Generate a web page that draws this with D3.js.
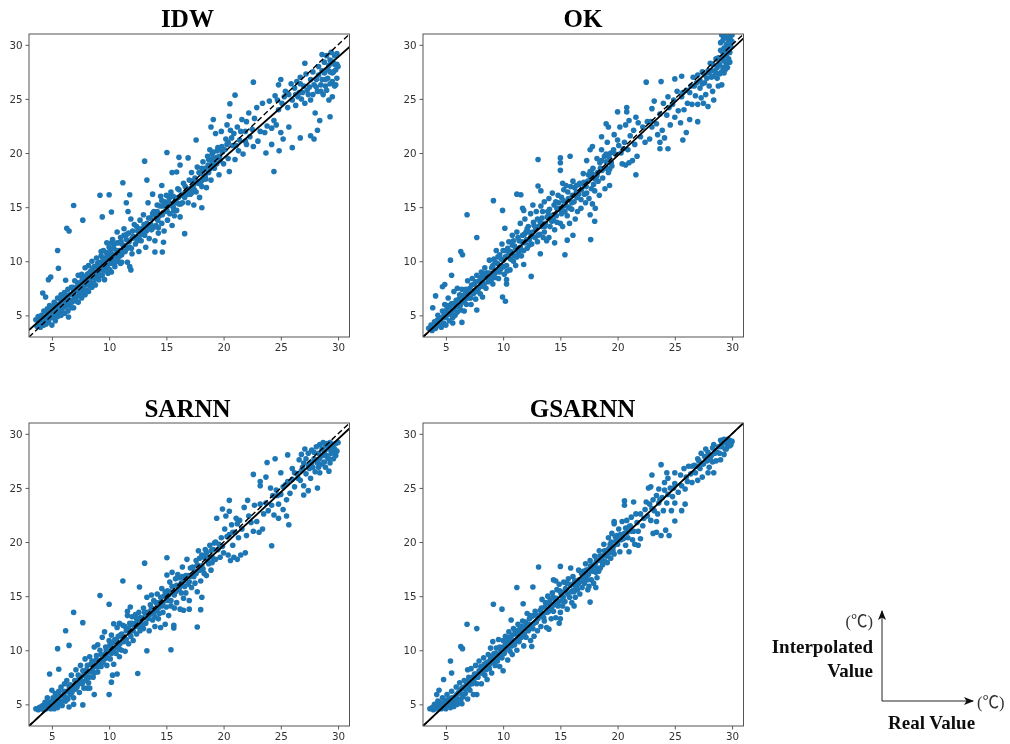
<!DOCTYPE html>
<html>
<head>
<meta charset="utf-8">
<script src="https://cdn.jsdelivr.net/npm/d3@7"></script>
<style>
  html, body { margin: 0; padding: 0; background: #fff; }
</style>
</head>
<body>
<div id="wrapper"></div>
<script>
const titles = ["IDW", "OK", "SARNN", "GSARNN"];
const tickValues = [5, 10, 15, 20, 25, 30];
const axisDomain = [3, 31];
// fitted line end values at x = 3 and x = 31
const fitEnds = [[3.65, 29.8], [3.0, 30.6], [3.0, 30.5], [3.0, 31.0]];

// [real, interpolated]
const idwPoints = [[5.5,11],[5.57,9.36],[4.7,8.3],[4.9,8.55],[4.2,7.07],[4.45,6.7],[6.2,8.25],[6.3,13.05],[6.5,12.8],[6.9,15.15],[7.7,13.8],[9.2,16.1],[10,16.15],[9.4,14.1],[10.2,14.55],[11.2,17.25],[11.8,16.15],[11.5,15.4],[11.65,14.6],[13.1,19.25],[13.3,17.5],[15.05,20.05],[14.6,17],[16.2,18.9],[15.5,18.2],[15.9,18.25],[17.6,21.2],[16.1,19.6],[16.9,19.55],[19.1,23.1],[18.9,22.4],[21,25.35],[20.55,24.55],[22.6,26.55],[20.5,23.4],[25,26.8],[24.8,26.3],[27.1,28.3],[28.6,29.1],[24.4,18.3],[20.5,18.3],[23.7,20],[24.85,20.2],[26,20.5],[24.2,20.8],[26.7,21.4],[27.6,21.6],[27.9,21.3],[28.2,22.1],[29.3,23.35],[18.1,14.95],[16.6,12.55],[14.75,11.75],[14.65,10.85],[14,10.85],[11.8,9.5],[11.9,9.2],[6.45,4.85],
[3.6,4.6],[3.7,4],[3.8,4.9],[3.9,4.3],[4,3.9],[4.1,5],[4.1,4.5],[4.3,4.1],[4.3,5.4],[4.4,4.8],[4.5,4.2],[4.6,5.6],[4.6,5],[4.7,4.4],[4.8,5.9],[4.8,4.7],[4.9,5.3],[5,4.1],[5,5.8],[5.1,4.8],[5.2,5.2],[5.2,6.2],[5.3,4.5],[5.4,5.7],[5.5,4.9],[5.5,6.6],[5.6,5.3],[5.7,6],[5.8,5],[5.8,6.9],[5.9,5.6],[6,6.3],[6.1,5.2],[6.1,7.1],[6.2,5.8],[6.3,6.6],[6.4,5.4],[6.4,7.4],[6.5,6.1],[6.6,6.9],[6.7,5.7],[6.7,7.6],[6.8,6.4],[6.9,7.2],[6.9,5.7],[7,8.2],[7.1,6.7],[7.2,7.6],[7.3,6.2],[7.3,8.7],[7.4,7],[7.5,8],[7.6,6.6],[7.6,8.8],[7.7,7.4],[7.8,8.3],[7.9,6.9],[7.9,9.4],[8,7.8],[8.1,8.8],[8.2,7.2],[8.2,9.6],[8.3,8.1],[8.4,9.1],[8.5,7.6],[8.5,10],[8.6,8.5],[8.7,9.5],[8.8,7.8],[8.9,8.9],[8.9,10.3],[9,9.8],[9.1,8.3],[9.2,9.2],[9.3,10.5],[9.4,8.7],[9.5,9.9],[9.5,11],[9.6,8.3],[9.7,9.4],[9.8,10.4],[9.8,11.7],[9.9,8.9],[10,9.8],[10,11.3],[10.1,10.7],[10.2,9],[10.3,10.1],[10.3,12],[10.4,11.2],[10.5,9.5],[10.6,10.5],[10.7,11.7],[10.7,12.7],[10.8,10],[10.9,11],[11,9.8],[11,12.2],[11.1,10.6],[11.2,11.5],[11.3,13],[11.4,10.9],[11.5,12],[11.6,9.9],[11.7,12.6],[11.8,11.3],[11.9,13.9],[12,10.7],[12.1,12.3],[12.2,13.4],[12.3,11.6],[12.5,12.8],[12.6,10.9],[12.7,13.8],[12.8,11.9],[12.9,13],[13,14.3],[13.1,12.4],[13.2,11.3],[13.3,13.5],[13.4,15.4],[13.5,12.1],[13.6,14],[13.7,12.9],[13.8,16.2],[13.9,14.6],[14,11.9],[14.1,13.3],[14.2,15.2],[14.3,12.6],[14.4,14.2],[14.5,16],[14.6,13.5],[14.7,15.1],[14.8,12.8],[14.9,14.6],[15,16.1],[15.1,13.8],[15.2,15.4],[15.3,14.4],[15.4,16.4],[15.5,13.3],[15.6,15],[15.7,14.2],[15.8,15.8],[15.9,14.7],[16,16.7],[16.1,15.3],[16.2,14.1],[16.3,16.1],[16.4,15.4],[16.5,17.2],[16.6,15.9],[16.8,16.6],[16.9,15.4],[17,17.5],[17.1,16.2],[17.2,18.2],[17.3,16.9],[17.4,15.2],[17.5,17.7],[17.6,16.4],[17.7,18.7],[17.8,17.2],[17.9,15.9],[18,18.1],[18.1,16.9],[18.2,19.2],[18.3,17.6],[18.4,18.6],[18.5,16.8],[18.6,19.7],[18.7,18.2],[18.8,20.3],[18.9,17.5],[19,19],[19.1,20.1],[19.2,18.6],[19.3,21.8],[19.4,19.6],[19.5,20.5],[19.6,18],[19.7,19.3],[19.8,22],[19.9,20.1],[20,19],[20.2,21.3],[20.3,22.6],[20.4,19.5],[20.6,22.1],[20.8,20.7],[20.9,21.8],[21,19.4],[21.2,22.4],[21.3,20.2],[21.4,21.2],[21.6,23.1],[21.7,19.9],[21.9,22],[22,20.8],[22.2,23.7],[22.3,21.5],[22.6,20.6],[22.7,23.2],[22.9,24.2],[23,21.1],[23.2,22],[23.4,24.6],[23.6,21.9],[23.8,22.5],[24,24.8],[24.2,22.3],[24.4,23],[24.5,25.3],[24.6,22.6],[24.8,24],[25,21.9],[25.1,24.6],[25.2,21.3],[25.4,25.7],[25.6,24.2],[25.7,22.4],[25.9,26.4],[26,24.9],[26.2,26],[26.3,24.4],[26.4,26.6],[26.5,25.2],[26.7,27],[26.8,25],[27,26.2],[27.1,24.6],[27.2,27.3],[27.4,25.4],[27.5,26.1],[27.6,24.9],[27.8,27.5],[27.9,26.3],[28,23.7],[28.1,26.8],[28.2,25.7],[28.3,28],[28.4,23],[28.5,26.3],[28.6,27.6],[28.7,25.4],[28.8,28.4],[28.9,26.8],[29,25.8],[29,29],[29.1,27.7],[29.2,24.9],[29.3,28.6],[29.3,26.4],[29.4,29.3],[29.5,27.4],[29.5,25.2],[29.6,28.3],[29.7,29],[29.7,26.2],[29.8,27.7],[29.9,29.2],[29.9,28.2],[29.9,26.9],[30,28]];
const idwCore = [[3.95,4.75],[4.2,4.55],[4.45,5.35],[4.55,4.55],[4.75,5.15],[4.95,5.7],[5.05,5.15],[5.25,5.6],[5.35,6.05],[5.45,5.25],[5.65,5.65],[5.75,6.45],[5.85,5.3],[6,5.85],[6.05,6.7],[6.25,6.2],[6.35,5.95],[6.45,6.85],[6.55,6.4],[6.75,6.2],[6.85,7.6],[6.95,6.8],[7.05,7.3],[7.15,6.3],[7.25,8],[7.35,7.4],[7.45,6.8],[7.55,7.6],[7.65,8.35],[7.75,7.1],[7.85,7.8],[7.95,8.6],[8.05,7.3],[8.15,8.2],[8.25,8.9],[8.35,7.7],[8.45,8.5],[8.55,9.3],[8.65,8],[8.75,9],[8.85,8.4],[8.95,9.5],[9.05,8.8],[9.15,9.9],[9.25,8.7],[9.35,9.5],[9.45,10.3],[9.55,9.1],[9.65,10],[9.75,10.8],[9.85,9.5],[9.95,10.3],[10.05,9.2],[10.15,11],[10.25,9.8],[10.35,10.6],[10.45,11.6],[10.55,9.9],[10.65,11],[10.75,10.3],[10.95,10.5],[11.05,11.8],[11.25,10.9],[11.45,11.4],[11.55,12.5],[11.75,11.8],[11.95,11.2],[12.05,12.8],[12.25,12.2],[12.45,11.9],[12.65,13],[12.85,12.5],[13.05,13.4],[13.25,12.8],[13.45,14],[13.65,13.4],[13.85,13.1],[14.05,14.2],[14.25,13.8],[14.45,15.1],[14.65,14.3],[14.85,15.5],[15.05,14.7],[15.25,15.8],[15.45,15.2],[15.65,14.7],[15.85,15.4],[16.05,15.9],[16.25,15.3],[16.45,16.2],[16.65,16.9],[16.85,16.2],[17.05,16.7],[17.25,17.4],[17.45,16.6],[17.65,17.4],[17.85,18.2],[18.05,17.4],[18.25,18.4],[18.45,17.6],[18.65,18.9],[18.85,18.6],[19.05,19.5],[19.25,19.1],[19.45,20.2],[19.65,19.7],[19.85,20.6],[27.3,25.8],[27.6,26.8],[27.8,25.4],[28.1,26.1],[28.3,27.2],[28.5,25.7],[28.6,26.8],[28.8,27.4],[28.9,26.2],[29.1,26.9],[29.2,28.1],[29.3,27.5],[29.4,28.5],[29.5,26.6],[29.6,27.5],[29.7,28.2],[29.8,26.3],[26.6,25.6],[26.9,25.6],[26.3,25.4],[26.7,26.4],[20.4,21],[20.7,21.4],[21.1,20.7],[21.5,22],[21.9,21.1],
[9.3,10.9],[10.2,11.7],[10.9,11.7],[11.3,12.4],[11.1,9.9],[11.6,11.2],[12,12.1],[12.4,13.2],[12.6,12.2],[13.4,13.2],[13,12.9],[13.8,14.4],[14.2,14.6],[14.6,15.6],[14.3,13.1],[15.1,15.1],[15.6,16],[15.3,16],[16.1,16.6],[15.9,15.8],[17.2,16.3],[16.7,16.3],[17.4,17.1],[18.1,18.6],[18.4,17.9],[18.7,19.4],[19,19.9],[19.4,19],[19.7,20.4],[18.9,19.4],[20.1,20.3],[20.3,20.8],[22,22.9],[22.5,22.2],[24.7,24.9],[25.3,25.2],[25.7,25.4]];

const okPoints = [[5.4,10.1],[5.5,8.7],[4.9,7.85],[4.7,7.65],[4.1,6.8],[3.85,5.7],[6.3,10.9],[6.45,10.6],[6.85,14.3],[7.7,12.2],[9.15,15.6],[9.95,14.7],[10.15,13.05],[11.2,16.2],[11.55,16.15],[11.7,14.9],[11.8,14.7],[13.05,19.4],[13.05,16.95],[13.3,16.5],[15,19.55],[15,19.1],[15,18.4],[15.85,19.7],[15.2,17.2],[17.7,18],[17.6,20.3],[17.8,20.6],[19,22.7],[19.2,22.4],[18.6,21.5],[20.8,24.2],[20.8,23.8],[21.6,23.3],[20,23.8],[22.5,26.55],[23.8,26.6],[25,26.85],[25.6,27.1],[27,22.9],[27.9,24.3],[26,21.9],[25.7,21.2],[24.4,20.4],[23.7,20.4],[23.7,21],[24.1,21.4],[21.6,18],[20.7,18.9],[21,19.1],[18.05,14.9],[18,13.7],[17.6,14.3],[17.65,12],[15.4,10.6],[13.25,10.7],[12.45,8.6],[15.6,11.95],[16.1,12.4],[10.2,6.3],[9.95,6.7],[10.3,8.3],[10.3,7.9],[7.7,5.5],[6.4,4.35],[5.6,4.3],[8.2,6.7],[11.8,9.7],[14.5,11.7],[14,12.2],
[3.5,3.8],[3.7,4.1],[3.8,3.6],[4,4.4],[4.1,3.8],[4.3,5],[4.3,4.1],[4.5,4.6],[4.6,3.9],[4.7,5.4],[4.8,4.3],[4.9,6],[5,4.8],[5,4.1],[5.1,5.6],[5.2,6.6],[5.3,4.5],[5.4,5.2],[5.5,6.1],[5.6,4.8],[5.7,7.2],[5.7,5.6],[5.8,5],[5.9,6.4],[6,5.3],[6,7.5],[6.1,6],[6.2,6.9],[6.3,5.5],[6.4,7.4],[6.5,6.3],[6.6,5.4],[6.7,7],[6.8,6],[6.9,8.2],[7,6.6],[7.1,7.5],[7.2,6],[7.3,8.4],[7.4,7],[7.5,7.9],[7.6,6.5],[7.7,8.7],[7.8,7.4],[7.9,8.2],[8,7],[8.1,9],[8.2,7.7],[8.3,8.5],[8.4,9.4],[8.5,7.5],[8.6,8.9],[8.7,8.1],[8.8,10.1],[8.9,8.5],[9,9.4],[9.1,7.9],[9.2,10.2],[9.3,8.9],[9.4,11],[9.5,9.8],[9.6,8.4],[9.7,10.6],[9.8,9.3],[9.9,11.6],[10,10.1],[10.1,8.8],[10.2,11],[10.3,9.6],[10.4,10.5],[10.5,11.8],[10.6,9.2],[10.7,10.9],[10.8,12.4],[10.9,10],[11,11.4],[11.1,9.6],[11.2,12.7],[11.3,10.8],[11.4,11.9],[11.5,13.5],[11.6,10.5],[11.7,12.4],[11.8,11],[11.9,13.9],[12,12.7],[12.1,11.2],[12.2,13.2],[12.3,12],[12.4,14.4],[12.5,11.6],[12.6,15.2],[12.7,13.3],[12.8,12.2],[12.9,14.6],[13,11.8],[13.1,13.2],[13.2,12.5],[13.3,15.1],[13.4,14],[13.5,12.2],[13.6,15.5],[13.7,13.5],[13.8,11.9],[13.9,14.6],[14,15.8],[14.1,13.2],[14.3,16.3],[14.4,14.3],[14.5,12.9],[14.6,15.5],[14.7,13.6],[14.8,16.1],[14.9,14.8],[15,13.5],[15.1,15.9],[15.2,13.2],[15.3,16.6],[15.4,14.6],[15.5,17],[15.6,14.2],[15.7,15.8],[15.8,13.5],[15.9,16.9],[16,14.8],[16.1,17.4],[16.2,15.5],[16.3,13.9],[16.4,17],[16.5,14.6],[16.6,16.2],[16.7,17.2],[16.8,14.9],[17,18.1],[17.1,16.2],[17.2,15.4],[17.3,19.3],[17.4,17.4],[17.5,15.8],[17.6,18.3],[17.7,16.7],[17.8,15.3],[17.9,18],[18,16.5],[18.2,19.5],[18.3,17.4],[18.4,16.1],[18.5,18.6],[18.6,20.3],[18.7,17.7],[18.9,16.7],[19,19.2],[19.1,21],[19.2,18.2],[19.3,17],[19.4,20],[19.5,18.8],[19.7,21.7],[19.8,19.9],[20,21.2],[20.2,22.4],[20.3,20],[20.4,19],[20.6,21],[20.7,22.6],[20.9,20.3],[21,23],[21.1,21.6],[21.3,19.3],[21.4,22.1],[21.5,20.8],[21.7,19.7],[21.8,22.8],[22,21.5],[22.2,22.4],[22.4,21],[22.6,22.9],[22.8,21.3],[23,24.1],[23,22.4],[23.2,24.8],[23.4,22.7],[23.5,21.7],[23.7,23.6],[23.9,22.1],[24,24.6],[24.3,23.5],[24.4,25.2],[24.6,22.6],[24.8,24.5],[25,23.3],[25.2,25.7],[25.3,23.9],[25.5,22.8],[25.6,25.2],[25.8,24],[26,25.8],[26.1,24.6],[26.3,23.1],[26.4,26.2],[26.5,24.5],[26.6,27],[26.8,25.3],[27,27.2],[27,24.5],[27.2,26],[27.3,25.1],[27.4,27.5],[27.5,24.6],[27.6,26.5],[27.7,25.4],[27.9,27.6],[28,26.2],[28.1,28.3],[28.2,27],[28.3,25.7],[28.4,24.9],[28.5,27.6],[28.6,28.7],[28.7,26.9],[28.8,26.2],[28.9,28.2],[29,27.4],[29,29.5],[29.1,26.3],[29.1,28.7],[29.2,30.4],[29.2,27.9],[29.3,29.7],[29.3,28.5],[29.4,30.8],[29.4,27.7],[29.5,30],[29.5,29],[29.5,28.2],[29.6,30.6],[29.6,29.4],[29.6,27.9],[29.7,28.7],[29.7,30.2],[29.8,29.3],[29.8,30.8],[29.9,29.8],[29.9,30.4],[30,30.9],[29.1,30.9],[29,30.2],[30,30.3],[29.8,28.4]];
const okCore = [[3.9,4.05],[4.25,4.55],[4.45,4.1],[4.65,4.8],[4.85,5.1],[5.05,5.25],[5.25,5.1],[5.35,5.8],[5.55,5.4],[5.75,6.1],[5.95,5.8],[6.15,6.5],[6.25,5.9],[6.45,6.8],[6.6,6.2],[6.75,7.4],[6.9,6.7],[7.05,7.1],[7.15,6.6],[7.25,7.8],[7.45,7.2],[7.6,8.1],[7.75,7.2],[7.9,7.6],[8.05,8.5],[8.2,8],[8.35,7.9],[8.5,8.9],[8.65,8.4],[8.8,8.9],[8.95,8.2],[9.1,9.6],[9.25,8.5],[9.4,9.2],[9.55,10.4],[9.7,9],[9.85,10.2],[10.05,9.5],[10.2,10.4],[10.35,9.1],[10.5,10.9],[10.65,10.2],[10.8,11.5],[10.95,10.5],[11.1,11.2],[11.3,12.2],[11.45,11],[11.65,11.8],[11.85,12.5],[12.05,12],[12.25,12.7],[12.45,12.3],[12.65,13.6],[12.85,13],[13.05,12.4],[13.25,13.6],[13.45,14.6],[13.65,13.2],[13.85,14.1],[14.05,14.8],[14.25,13.7],[14.45,15.2],[14.65,14.2],[14.85,15.4],[15.05,14.9],[15.25,15.6],[15.45,15.2],[15.65,16.4],[15.85,14.9],[16.05,16.1],[16.25,16.8],[16.45,15.9],[16.65,17.1],[16.85,16.6],[17.05,17.3],[17.25,16.9],[17.45,18],[17.65,17.7],[17.85,18.6],[18.05,17.6],[18.25,18.2],[18.45,19.1],[18.65,18.4],[18.85,19.7],[19.05,18.6],[19.25,19.6],[19.45,19.1],[19.65,20.3],[27.6,27.2],[27.8,26.9],[28,27.4],[28.2,27.6],[28.3,28.2],[28.4,27.1],[28.6,27.4],[28.7,27.9],[28.8,28.8],[28.9,27.3],[29.1,27.5],[29.2,28.9],[29.3,27.4],[29.4,29.6],[29.5,30.7],[29.6,28.5],[29.7,29.7],[29.8,30.2],[29.3,30.6],[29.2,29.3],[29.9,30.9],[26.9,26.5],[27.2,26.7],[27.4,26.4],[26.3,25.6],[25.7,25.6],
[5.2,5.9],[6.7,6.5],[8.2,8.7],[9.1,8.7],[9.3,9.9],[10,11],[10.4,11.2],[10.9,11.9],[11.2,10.4],[11.5,11.3],[11.9,11.7],[12.1,13],[12.3,11.5],[12.6,12.7],[13,13.9],[13.4,13.2],[13.6,12.7],[14,14.3],[14.4,13.8],[14.7,14.9],[15.1,14.4],[15.3,15.1],[15.7,15],[16,15.4],[16.4,16.4],[16.8,15.7],[17.1,17],[17.3,16.3],[17.7,18.2],[17.9,17.1],[18.2,17.9],[18.6,19.3],[19,19.9],[19.3,18.5],[20.1,20.7],[20.5,20.4],[22.9,22.9],[24.5,24.2],[24.9,24.9],[26.7,26.2]];

const sarnnPoints = [[5.5,10.15],[5.6,8.25],[4.8,7.8],[6.2,11.8],[6.5,10.45],[6.9,13.5],[7.7,12.55],[9.2,15.05],[10,14.25],[10.4,12.45],[11.2,16.4],[10.9,12.5],[11.85,14],[11.6,13.6],[13.1,18.05],[12.65,15.85],[15.05,18.55],[15.05,16.95],[13,13.9],[12.5,7.85],[13.3,9.95],[15.4,10.05],[15.65,12.05],[15.65,12.3],[17.7,12.15],[18,13.75],[18.1,14.9],[17,13.8],[16.5,13.7],[10,5.9],[8.7,5.9],[7.7,4.95],[6.5,4.75],[6.9,5],[10.2,7.05],[10.3,7.7],[10.7,7.8],[8.3,6.5],[8.1,6.5],[24.2,19.65],[25.7,21.6],[25.5,22.4],[24.8,22.2],[23.7,26],[23.8,27.35],[24.5,27.7],[25.6,28.05],[22.6,26.25],[23.2,25.6],[23.2,25.2],[20.5,23.85],[19.9,23.05],[20.5,22.85],[22.1,23.85],[27,24.35],[27.4,24.75],[28.2,25],[29.2,26.55],[28.4,26.4],
[3.6,4.6],[3.8,4.5],[3.9,4.7],[4.1,4.6],[4.2,4.9],[4.3,4.5],[4.4,5.2],[4.5,4.6],[4.6,5.6],[4.7,4.7],[4.8,5.2],[4.9,4.6],[5,6.3],[5,5],[5.1,5.6],[5.2,4.6],[5.3,6],[5.4,5],[5.5,5.5],[5.5,4.7],[5.6,6.2],[5.7,5.2],[5.8,6.6],[5.9,4.9],[6,5.8],[6.1,6.9],[6.2,5.3],[6.3,6.2],[6.3,7.2],[6.4,5.5],[6.5,6.7],[6.6,5.9],[6.7,7.7],[6.8,6.3],[6.9,5.6],[7,7.2],[7.1,8.2],[7.2,6.6],[7.3,7.7],[7.4,6.1],[7.5,8.6],[7.6,7.1],[7.7,8.1],[7.8,6.5],[7.9,9.2],[8,7.6],[8.1,8.6],[8.2,7],[8.3,9.4],[8.4,8],[8.5,9],[8.6,7.5],[8.7,10.3],[8.8,8.5],[8.9,9.5],[9,10.5],[9,8],[9.1,9],[9.2,10],[9.3,8.5],[9.4,11.2],[9.5,9.4],[9.6,11.7],[9.7,10.3],[9.8,8.6],[9.9,9.8],[10,10.9],[10.1,9.2],[10.2,11.4],[10.3,10.2],[10.4,8.7],[10.5,11],[10.6,9.7],[10.7,12.1],[10.8,10.4],[10.9,9.4],[11,11.4],[11.1,10],[11.2,12.3],[11.3,10.8],[11.4,9.9],[11.5,11.8],[11.6,13.2],[11.7,10.6],[11.8,12.5],[11.9,11.3],[12,13.1],[12.1,10.9],[12.2,12.2],[12.3,13.3],[12.4,11.5],[12.5,12.7],[12.6,13.5],[12.7,11.8],[12.8,13],[13,12],[13.1,13.5],[13.2,12.5],[13.3,14.9],[13.4,12.9],[13.5,11.8],[13.6,14.2],[13.7,15.1],[13.8,12.8],[13.9,14.6],[14,12.2],[14.1,13.7],[14.2,15.2],[14.3,12.9],[14.4,14.4],[14.5,12.1],[14.6,15.7],[14.7,13.5],[14.8,15],[14.9,12.4],[15,14],[15.1,15.5],[15.2,13.2],[15.3,16.3],[15.4,14.6],[15.5,17.2],[15.6,15.3],[15.7,13.9],[15.8,16.6],[15.9,14.4],[16,17],[16.1,15.6],[16.2,13.8],[16.3,16.2],[16.4,17.7],[16.5,14.8],[16.6,16.6],[16.7,15.3],[16.8,18.4],[16.9,16.9],[17,14.6],[17.1,17.6],[17.2,15.8],[17.3,17],[17.5,16.2],[17.6,18.3],[17.7,15.4],[17.8,19.2],[17.9,17.4],[18,16.4],[18.1,18.8],[18.2,17.5],[18.4,19.3],[18.5,16.9],[18.6,18.2],[18.8,19.7],[18.9,17.4],[19,18.6],[19.2,19.9],[19.3,18.4],[19.4,22.2],[19.6,19.8],[19.7,18.6],[19.8,20.4],[20,19],[20.1,21.2],[20.2,22.4],[20.4,18.8],[20.5,20.7],[20.6,18.3],[20.7,21.6],[20.8,19.7],[20.9,18.6],[21,20.9],[21.1,22.2],[21.2,18.4],[21.3,20.4],[21.4,22],[21.5,18.8],[21.6,21.2],[21.8,23.2],[21.9,19],[22,20.6],[22.2,22.4],[22.4,21.8],[22.6,21],[22.7,23.4],[22.9,21.9],[23.1,20.9],[23.2,23.5],[23.4,21.2],[23.5,22.6],[23.7,23.6],[23.9,22.9],[24.1,25],[24.2,23.4],[24.3,24.3],[24.4,22.5],[24.6,24.8],[24.8,23.5],[25,24.4],[25,26.4],[25.2,23],[25.4,25.3],[25.5,23.9],[25.8,24.5],[26,25.8],[26,26.8],[26.2,25.1],[26.4,26.3],[26.6,27.6],[26.7,25.7],[26.8,28.1],[26.9,26.9],[27,25.2],[27.1,28.6],[27.2,26.3],[27.4,28.2],[27.4,27.1],[27.6,25.9],[27.7,28.5],[27.8,26.9],[27.9,27.7],[28,26.5],[28.1,28.8],[28.2,27.3],[28.3,26.9],[28.4,29],[28.5,28],[28.6,27.2],[28.7,29.2],[28.8,28.4],[28.8,27.4],[28.9,26.9],[29,29.1],[29.1,27.8],[29.2,28.6],[29.3,29.2],[29.3,27.3],[29.4,28.2],[29.5,29],[29.6,27.7],[29.7,28.6],[29.8,29.1],[29.9,28.4],[30,29.2]];
const sarnnCore = [[4,4.75],[4.25,4.7],[4.45,4.8],[4.65,5.1],[4.85,4.8],[5.05,5.3],[5.25,5],[5.35,5.6],[5.55,5.1],[5.7,5.8],[5.85,5.3],[6.05,6.2],[6.15,5.7],[6.3,5.5],[6.45,6.2],[6.6,6.8],[6.75,6.1],[6.9,6.7],[7.05,6.4],[7.2,7.2],[7.35,6.9],[7.5,7.5],[7.65,6.9],[7.8,7.7],[7.95,7.2],[8.1,8],[8.25,7.5],[8.4,8.7],[8.55,8.1],[8.7,7.9],[8.85,9.1],[9,8.5],[9.15,8.6],[9.3,9.6],[9.45,8.9],[9.6,9.2],[9.75,10],[9.9,9.3],[10.05,10.4],[10.2,9.7],[10.35,10.7],[10.5,10.2],[10.65,10.9],[10.8,11.3],[10.95,10.6],[11.1,11.5],[11.3,11.2],[11.5,11],[11.7,12],[11.9,12.4],[12.1,11.8],[12.3,12.5],[12.5,12.2],[12.7,13],[12.9,12.4],[13.1,13],[13.3,13.5],[13.5,13.2],[13.7,13.9],[13.9,13.4],[14.1,14.4],[14.3,13.9],[14.5,14.9],[14.7,14.4],[14.9,15.4],[15.1,14.6],[15.3,15.4],[15.5,15.9],[15.7,15.1],[15.9,16],[16.1,16.7],[16.3,15.3],[16.5,16.4],[16.7,16.9],[16.9,16.1],[17.1,16.8],[17.3,17.7],[17.5,17.3],[17.7,17.9],[17.9,18.5],[18.1,17.8],[18.3,18.6],[18.5,19],[18.7,18.6],[18.9,19.2],[19.1,19.3],[19.3,20],[26.2,26.4],[26.5,25.9],[26.8,26.6],[27,27.3],[27.2,27.7],[27.5,26.8],[27.7,27.3],[27.9,28.3],[28.1,27.6],[28.3,28.2],[28.4,27.7],[28.6,28.6],[28.7,28],[28.9,28.9],[29,28],[29.1,28.9],[29.2,27.7],[29.3,28.7],[29.5,28.3],[29.6,29],[29.8,28],
[8,8.2],[8.9,8.8],[9.3,9.1],[9.7,9.7],[10.1,10.7],[10.4,9.9],[10.9,10.1],[11.2,11],[11.4,12.2],[11.8,11.6],[12,12.5],[12.4,12.9],[12.8,12.1],[13.2,13.2],[13.6,13.6],[14,13.1],[14.4,13.4],[14.6,14.1],[15,15],[15.2,15.1],[15.4,14.1],[15.8,15.4],[16.2,15.9],[16.4,16.8],[16.6,15.9],[17,16.3],[17.4,16.8],[17.6,17.1],[18,17.7],[18.3,17.1],[18.7,18],[19,18.1],[19.5,19.3],[19.9,19.6],[20.3,20.5],[20.8,20.9],[21.2,21.7],[24.7,24.3],[25.2,25.1],[25.6,25.6]];

const gsarnnPoints = [[4.8,7.3],[4.4,6.3],[4.2,5.9],[5.4,9],[5.5,7.9],[6.3,10.35],[6.45,10.15],[6.85,12.4],[7.7,12],[9.15,14.25],[9.9,13.8],[8.9,10.2],[10.7,12.8],[11.2,15.8],[11.75,14.3],[12.6,15.85],[13.1,17.7],[15,17.75],[15.9,17.6],[14.4,16.5],[14.6,16.4],[7.7,5.9],[6.4,5.05],[10,8.1],[12.5,10.35],[14,11.95],[14.9,12.5],[15,12.9],[17.6,14.45],[18.1,15.8],[17.5,15.9],[16.2,14.1],[22.5,23.7],[20.6,23.8],[20.6,23.4],[21.4,23.7],[19.7,21.9],[23,26.2],[23.8,27.15],[24.3,26.4],[25,26.4],[24.4,25.9],[24.1,25.5],[22.7,25],[22.9,25.1],[23.6,24.9],[25,21.95],[24.5,20.6],[24.2,21.1],[23.1,20.8],[23.4,20.9],[23.8,20.6],[24.7,22.9],[25.6,22.9],[25.9,23.5],[21.8,19.7],[28.4,26.4],[27.9,26.4],[23.4,21.9],[19.7,21.7],
[3.6,4.6],[3.8,4.7],[3.9,4.5],[4,5],[4.1,4.6],[4.3,5.3],[4.4,4.7],[4.5,5],[4.6,4.6],[4.7,5.6],[4.8,4.7],[4.9,5.2],[5,4.6],[5.1,5.9],[5.2,4.8],[5.3,5.5],[5.4,4.7],[5.5,6.2],[5.6,5.1],[5.7,4.8],[5.8,5.7],[5.9,6.6],[6,5],[6.1,6.1],[6.2,7],[6.3,5.4],[6.4,6.5],[6.5,5.7],[6.6,7.2],[6.7,6],[6.8,6.8],[6.9,8.2],[6.9,5.5],[7,7.5],[7.1,6.3],[7.2,8.3],[7.3,6.9],[7.4,5.9],[7.5,7.8],[7.6,8.6],[7.7,6.9],[7.8,7.5],[7.9,9],[8,7.9],[8.1,6.9],[8.2,8.5],[8.3,9.3],[8.4,7.7],[8.5,8.8],[8.6,7.3],[8.7,9.6],[8.8,8.3],[8.9,9.2],[9,7.9],[9.1,10.8],[9.2,9.7],[9.3,8.6],[9.4,10.2],[9.5,9],[9.6,11],[9.7,8.5],[9.8,10],[9.9,9.3],[10,10.9],[10.1,9.7],[10.2,11.3],[10.3,10.4],[10.4,9.1],[10.5,11.7],[10.6,9.9],[10.7,10.9],[10.8,9.6],[10.9,12],[11,10.5],[11.1,11.5],[11.2,10],[11.3,12.4],[11.4,10.8],[11.5,11.9],[11.7,12.7],[11.8,10.4],[11.9,12],[12,11.2],[12.1,13.4],[12.2,11.8],[12.3,12.9],[12.4,10.9],[12.5,13.1],[12.6,12],[12.7,11.3],[12.8,13.6],[12.9,12.6],[13,11.8],[13.2,13.2],[13.3,12.2],[13.4,14.7],[13.5,13.4],[13.6,12.7],[13.7,14.4],[13.8,12.1],[13.9,15],[14,13.6],[14.1,14.6],[14.2,12.9],[14.3,15.3],[14.4,13.6],[14.5,14.8],[14.6,13],[14.7,15.6],[14.8,14.1],[14.9,16.1],[15,13.5],[15.1,15.1],[15.2,14.1],[15.3,16.3],[15.4,14.5],[15.5,15.6],[15.6,13.8],[15.7,16.6],[15.8,14.9],[15.9,16],[16,14.4],[16.1,16.8],[16.2,15.4],[16.3,14.9],[16.4,16.4],[16.5,15.6],[16.6,17.4],[16.7,15.2],[16.8,16.4],[16.9,15.8],[17,17.3],[17.1,16.2],[17.2,18],[17.3,16.8],[17.4,15.6],[17.5,17.5],[17.6,18.3],[17.7,16.5],[17.8,17.7],[17.9,16.2],[18,18.7],[18.1,17.2],[18.2,16.7],[18.3,18.3],[18.4,19.2],[18.5,17.6],[18.6,18.7],[18.7,17.9],[18.8,19.8],[18.9,18.2],[19,19.2],[19.1,18.1],[19.2,20.4],[19.3,19],[19.4,18.5],[19.5,20.8],[19.6,19.2],[19.7,18.9],[19.8,20.5],[20,19.8],[20.1,21.2],[20.2,19.1],[20.3,20.2],[20.4,21.9],[20.6,20.8],[20.7,19.7],[20.8,22],[20.9,20.4],[21,19.1],[21.1,21.5],[21.2,22.3],[21.3,20.2],[21.4,21],[21.5,19.8],[21.6,22.6],[21.8,21],[22,20.3],[22,22.6],[22.2,21.5],[22.4,23],[22.6,22.4],[22.8,23.5],[22.9,22],[23.1,23.9],[23.2,22.9],[23.4,24.3],[23.5,22.6],[23.6,23.6],[23.9,24.1],[24,22.9],[24.1,24.8],[24.3,23.6],[24.6,25],[24.8,24.2],[25,25.4],[25,23.6],[25.3,24.6],[25.5,26.2],[25.6,25.2],[25.8,26.8],[25.9,24.9],[26,26],[26.1,25.6],[26.2,27],[26.4,26.3],[26.5,25.5],[26.7,27.1],[26.8,26.4],[27,27.7],[27,25.7],[27.2,26.8],[27.3,28.2],[27.4,26],[27.5,27.2],[27.7,28.6],[27.8,27.5],[28,27.9],[28,26.9],[28.2,28],[28.3,27.4],[28.4,29],[28.5,28.2],[28.6,27.5],[28.8,28.8],[28.9,28.2],[29,27.6],[29,29.4],[29.1,28.8],[29.2,29.4],[29.3,28.1],[29.4,29.2],[29.5,28.6],[29.6,29.5],[29.7,28.9],[29.8,29.4],[29.9,29],[30,29.3]];
const gsarnnCore = [[4.05,4.8],[4.25,4.85],[4.45,5.2],[4.65,5],[4.85,4.9],[5,5.4],[5.2,5.3],[5.35,5.05],[5.5,5.6],[5.65,5.4],[5.8,5.2],[5.95,5.9],[6.1,5.5],[6.25,6.3],[6.4,5.9],[6.55,6.6],[6.7,6.4],[6.85,7.1],[7,6.7],[7.15,7.3],[7.3,7.5],[7.45,7.1],[7.6,7.8],[7.75,7.5],[7.9,8.1],[8.05,8.5],[8.2,7.9],[8.35,8.7],[8.5,8.2],[8.65,8.9],[8.8,8.7],[8.95,9.4],[9.1,8.9],[9.25,9.1],[9.4,9.7],[9.55,9.4],[9.7,10.3],[9.85,9.6],[10,10.3],[10.15,10],[10.3,11],[10.45,10.3],[10.6,11.2],[10.75,10.4],[10.9,10.9],[11.05,11.8],[11.25,11],[11.45,11.5],[11.65,12.2],[11.85,11.5],[12.05,12.4],[12.25,12.4],[12.45,12.1],[12.65,13.2],[12.85,12.6],[13.05,12.9],[13.25,13.7],[13.45,13.1],[13.65,14],[13.85,13.5],[14.05,14.3],[14.25,14],[14.45,14.2],[14.65,14.8],[14.85,14.5],[15.05,15.3],[15.25,14.9],[15.45,15.7],[15.65,15.2],[15.85,16.1],[16.05,15.5],[16.25,16.4],[16.45,16],[16.65,16.5],[16.85,17.1],[17.05,16.7],[17.25,17.4],[17.45,17],[17.65,17.8],[17.85,17.3],[18.05,18],[18.25,17.6],[18.45,18.7],[18.65,18.2],[18.85,19.2],[19.05,18.7],[19.25,19.4],[19.45,20],[19.65,19.6],[19.85,20.1],[20.1,20.2],[20.5,20.3],[20.7,21.3],[21,21.4],[26.5,27],[26.9,27],[27.1,27.5],[27.3,27.2],[27.6,27.9],[27.9,28.3],[28.1,27.6],[28.3,28.7],[28.7,28.3],[29.1,29.2],[29.3,29.5],[29.4,28.6],[29.6,29],[29.8,28.9],
[8.1,8],[8.6,8.5],[9.05,9.3],[9.45,9.3],[9.9,10.2],[10.2,10.6],[10.55,10.7],[10.8,11.4],[11.15,10.9],[11.35,11.9],[11.6,11.2],[11.95,12.6],[12.15,12.1],[12.35,13.2],[12.7,12.5],[13,13.2],[13.35,13.9],[13.55,13],[13.9,14.3],[14.15,13.7],[14.35,14.9],[14.6,14.4],[14.95,15.5],[15.15,14.6],[15.35,15.4],[15.55,16.2],[15.95,15.4],[16.15,16.1],[16.35,15.7],[16.6,16.2],[16.95,16.4],[17.15,17.2],[17.35,16.5],[17.55,17.3],[17.95,17.9],[18.15,18.3],[18.35,17.3],[18.75,18.7],[18.95,19],[19.35,19.8],[19.55,19.4],[19.95,20.6],[20.25,20.7],[20.85,20.9],[21.25,21],[21.7,21.8],[22.3,22.2],[23,23.1],[23.7,23.9],[24.4,24.4],[24.9,25]];

const allPoints = [idwPoints.concat(idwCore), okPoints.concat(okCore), sarnnPoints.concat(sarnnCore), gsarnnPoints.concat(gsarnnCore)];

const panelLeft = [29, 423, 29, 423];
const panelTop = [34, 34, 423, 423];
const panelWidth = 320.5;
const panelHeight = 303;
const titleX = [187.5, 583, 187.5, 582.5];
const titleY = [27, 27, 417, 417];

const width = 1010;
const height = 744;

const svg = d3.select("#wrapper").append("svg")
    .attr("width", width)
    .attr("height", height)
    .style("display", "block");

const defs = svg.append("defs");
defs.append("filter").attr("id", "soft")
    .append("feGaussianBlur").attr("stdDeviation", 0.45);
const marker = defs.append("marker")
    .attr("id", "head").attr("viewBox", "0 0 10 8")
    .attr("refX", 9).attr("refY", 4)
    .attr("markerWidth", 10).attr("markerHeight", 8)
    .attr("markerUnits", "userSpaceOnUse")
    .attr("orient", "auto");
marker.append("path").attr("d", "M0,0L10,4L0,8L2.5,4Z").attr("fill", "#111");

const root = svg.append("g").attr("filter", "url(#soft)");

titles.forEach((title, i) => {
    const xScaler = d3.scaleLinear().domain(axisDomain).range([0, panelWidth]);
    const yScaler = d3.scaleLinear().domain(axisDomain).range([panelHeight, 0]);

    root.append("text")
        .attr("x", titleX[i])
        .attr("y", titleY[i])
        .attr("text-anchor", "middle")
        .style("font", "bold 25px 'Liberation Serif'")
        .attr("fill", "#000")
        .text(title);

    const bounded = root.append("g")
        .attr("transform", `translate(${panelLeft[i]}, ${panelTop[i]})`);

    defs.append("clipPath").attr("id", `clip${i}`)
        .append("rect").attr("width", panelWidth).attr("height", panelHeight);

    const plot = bounded.append("g").attr("clip-path", `url(#clip${i})`);

    plot.selectAll("circle")
        .data(allPoints[i])
        .join("circle")
        .attr("cx", d => xScaler(d[0]))
        .attr("cy", d => yScaler(d[1]))
        .attr("r", 2.8)
        .attr("fill", "#1f77b4");

    // y = x reference
    const line = d3.line().x(d => xScaler(d[0])).y(d => yScaler(d[1]));
    plot.append("path")
        .attr("d", line([[axisDomain[0], axisDomain[0]], [axisDomain[1], axisDomain[1]]]))
        .attr("fill", "none")
        .attr("stroke", "#000")
        .attr("stroke-width", 1.4)
        .attr("stroke-dasharray", "5.5,3");

    // fitted line
    plot.append("path")
        .attr("d", line([[axisDomain[0], fitEnds[i][0]], [axisDomain[1], fitEnds[i][1]]]))
        .attr("fill", "none")
        .attr("stroke", "#000")
        .attr("stroke-width", 1.8);

    const xAxis = d3.axisBottom(xScaler).tickValues(tickValues).tickSize(3.5).tickPadding(3);
    const yAxis = d3.axisLeft(yScaler).tickValues(tickValues).tickSize(3.5).tickPadding(3);

    [bounded.append("g").attr("transform", `translate(0, ${panelHeight})`).call(xAxis),
     bounded.append("g").call(yAxis)].forEach(g => {
        g.select(".domain").remove();
        g.selectAll("line").attr("stroke", "#333").attr("stroke-width", 0.8);
        g.selectAll("text")
            .attr("fill", "#333")
            .style("font", "10.3px 'DejaVu Sans'");
    });

    bounded.append("rect")
        .attr("width", panelWidth)
        .attr("height", panelHeight)
        .attr("fill", "none")
        .attr("stroke", "#555")
        .attr("stroke-width", 1);
});

// direction key, bottom right
const key = root.append("g");
key.append("path").attr("d", "M882,701L882,611")
    .attr("fill", "none").attr("stroke", "#222").attr("stroke-width", 1)
    .attr("marker-end", "url(#head)");
key.append("path").attr("d", "M882,701L973,701")
    .attr("fill", "none").attr("stroke", "#222").attr("stroke-width", 1)
    .attr("marker-end", "url(#head)");

const keyLabels = [
    { text: "(℃)", x: 873, y: 627, anchor: "end", weight: "normal", color: "#333", size: 16.5 },
    { text: "Interpolated", x: 873, y: 653, anchor: "end", weight: "bold", color: "#111", size: 19 },
    { text: "Value", x: 873, y: 677, anchor: "end", weight: "bold", color: "#111", size: 19 },
    { text: "(℃)", x: 977, y: 708, anchor: "start", weight: "normal", color: "#333", size: 16.5 },
    { text: "Real Value", x: 888, y: 729, anchor: "start", weight: "bold", color: "#111", size: 19 }
];
key.selectAll("text")
    .data(keyLabels)
    .join("text")
    .attr("x", d => d.x)
    .attr("y", d => d.y)
    .attr("text-anchor", d => d.anchor)
    .attr("fill", d => d.color)
    .style("font-family", "'Liberation Serif', 'Noto Sans CJK SC'")
    .style("font-weight", d => d.weight)
    .style("font-size", d => d.size + "px")
    .text(d => d.text);
</script>
</body>
</html>
